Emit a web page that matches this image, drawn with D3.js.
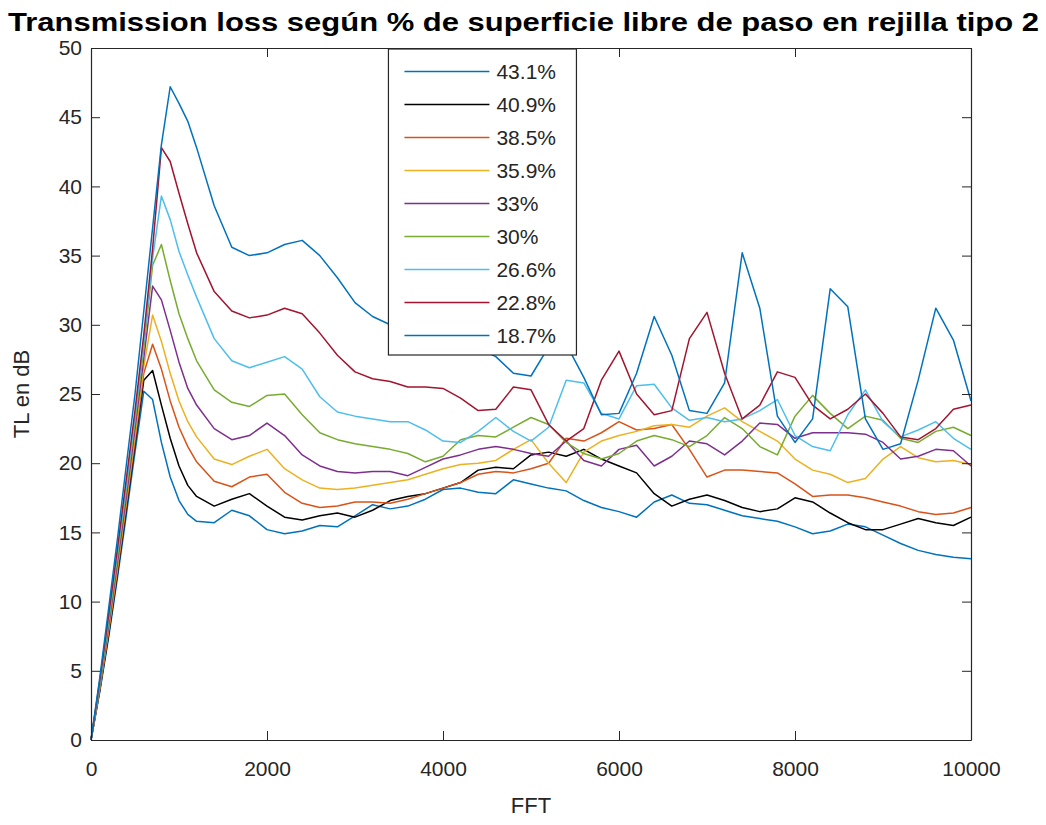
<!DOCTYPE html>
<html>
<head>
<meta charset="utf-8">
<script src="https://cdn.jsdelivr.net/npm/d3@7"></script>
<style>
	body { margin: 0; background: #fff; }
	#tl-chart { width: 1046px; height: 825px; }
	text { font-family: "Liberation Sans", Arial, sans-serif; fill: #262626; }
</style>
</head>
<body>
<div id="tl-chart"></div>
<script>
// Frequency grid (Hz): 100 Hz steps up to 1200, then 200 Hz steps
const freq = [0, 100, 200, 300, 400, 500, 600, 700, 800, 900, 1000, 1100, 1200,
	1400, 1600, 1800, 2000, 2200, 2400, 2600, 2800, 3000, 3200,
	3400, 3600, 3800, 4000, 4200, 4400, 4600, 4800, 5000, 5200,
	5400, 5600, 5800, 6000, 6200, 6400, 6600, 6800, 7000, 7200,
	7400, 7600, 7800, 8000, 8200, 8400, 8600, 8800, 9000, 9200,
	9400, 9600, 9800, 10000]

const seriesLabels = ["43.1%", "40.9%", "38.5%", "35.9%", "33%", "30%", "26.6%", "22.8%", "18.7%"]
const seriesColors = ["#0072BD", "#000000", "#D95319", "#EDB120", "#7E2F8E", "#77AC30", "#4DBEEE", "#A2142F", "#0072BD"]

// TL in dB, one array per % open area
const tl431 = [0, 3.5, 7.4, 11.7, 16.2, 20.8, 25.2, 24.6, 21.5, 19.0, 17.3, 16.3, 15.8,
	15.7, 16.6, 16.2, 15.2, 14.9, 15.1, 15.5, 15.4, 16.2, 17.0,
	16.7, 16.9, 17.4, 18.1, 18.2, 17.9, 17.8, 18.8, 18.5, 18.2,
	18.0, 17.3, 16.8, 16.5, 16.1, 17.2, 17.7, 17.1, 17.0, 16.6,
	16.2, 16.0, 15.8, 15.4, 14.9, 15.1, 15.6, 15.4, 14.8, 14.2,
	13.7, 13.4, 13.2, 13.1]
const tl409 = [0, 3.6, 7.6, 12.0, 16.6, 21.3, 26.0, 26.7, 24.2, 21.8, 19.8, 18.4, 17.6,
	16.9, 17.4, 17.8, 16.9, 16.1, 15.9, 16.2, 16.4, 16.1, 16.6,
	17.3, 17.6, 17.8, 18.2, 18.6, 19.5, 19.7, 19.6, 20.6, 20.8,
	20.5, 21.0, 20.3, 19.8, 19.3, 17.8, 16.9, 17.4, 17.7, 17.3,
	16.8, 16.5, 16.7, 17.5, 17.2, 16.4, 15.7, 15.2, 15.2, 15.6,
	16.0, 15.7, 15.5, 16.1]
const tl385 = [0, 3.7, 7.8, 12.2, 16.9, 21.6, 26.5, 28.6, 26.8, 24.5, 22.6, 21.2, 20.1,
	18.7, 18.3, 19.0, 19.2, 17.9, 17.1, 16.8, 16.9, 17.2, 17.2,
	17.1, 17.4, 17.8, 18.2, 18.6, 19.2, 19.4, 19.3, 19.6, 20.0,
	21.8, 21.6, 22.2, 23.0, 22.4, 22.5, 22.8, 21.0, 19.0, 19.5,
	19.5, 19.4, 19.3, 18.5, 17.6, 17.7, 17.7, 17.5, 17.2, 16.9,
	16.5, 16.3, 16.4, 16.8]
const tl359 = [0, 3.8, 8.0, 12.5, 17.2, 22.0, 27.0, 30.7, 28.8, 26.5, 24.5, 23.0, 21.9,
	20.3, 19.9, 20.5, 21.0, 19.6, 18.8, 18.2, 18.1, 18.2, 18.4,
	18.6, 18.8, 19.2, 19.6, 19.9, 20.0, 20.2, 21.0, 21.7, 20.0,
	18.6, 20.8, 21.6, 22.0, 22.3, 22.7, 22.8, 22.6, 23.4, 24.0,
	23.0, 22.3, 21.6, 20.3, 19.5, 19.2, 18.6, 18.9, 20.3, 21.2,
	20.4, 20.1, 20.2, 19.9]
const tl330 = [0, 3.9, 8.2, 12.8, 17.5, 22.5, 27.6, 32.8, 31.8, 29.6, 27.3, 25.4, 24.2,
	22.5, 21.7, 22.0, 22.9, 22.0, 20.6, 19.8, 19.4, 19.3, 19.4,
	19.4, 19.1, 19.7, 20.3, 20.6, 21.0, 21.2, 21.0, 20.7, 20.5,
	21.6, 20.2, 19.8, 21.0, 21.3, 19.8, 20.5, 21.6, 21.4, 20.6,
	21.6, 22.9, 22.8, 21.8, 22.2, 22.2, 22.2, 22.1, 21.5, 20.3,
	20.5, 21.0, 20.9, 19.8]
const tl300 = [0, 4.0, 8.5, 13.2, 18.0, 23.0, 28.3, 34.3, 35.8, 33.2, 30.8, 29.0, 27.4,
	25.3, 24.4, 24.1, 24.9, 25.0, 23.5, 22.2, 21.7, 21.4, 21.2,
	21.0, 20.7, 20.1, 20.5, 21.7, 22.0, 21.9, 22.6, 23.3, 22.8,
	21.5, 20.7, 20.3, 20.7, 21.6, 22.0, 21.7, 21.2, 22.0, 23.3,
	22.5, 21.2, 20.6, 23.4, 24.9, 23.6, 22.5, 23.4, 23.1, 21.8,
	21.5, 22.3, 22.6, 22.0]
const tl266 = [0, 4.2, 8.8, 13.5, 18.3, 23.3, 28.8, 34.8, 39.3, 37.6, 35.3, 33.6, 32.0,
	29.0, 27.4, 26.9, 27.3, 27.7, 26.8, 24.8, 23.7, 23.4, 23.2,
	23.0, 23.0, 22.4, 21.6, 21.5, 22.3, 23.3, 22.3, 21.6, 22.6,
	26.0, 25.8, 23.6, 23.2, 25.6, 25.7, 24.0, 23.1, 23.3, 23.0,
	23.2, 23.8, 24.6, 22.0, 21.2, 20.9, 23.5, 25.3, 23.0, 21.9,
	22.4, 23.0, 21.8, 21.0]
const tl228 = [0, 4.3, 9.0, 13.8, 18.8, 23.8, 29.3, 35.5, 42.8, 41.8, 39.5, 37.3, 35.2,
	32.4, 31.0, 30.5, 30.7, 31.2, 30.8, 29.4, 27.8, 26.6, 26.1,
	25.9, 25.5, 25.5, 25.4, 24.7, 23.8, 23.9, 25.5, 25.3, 22.8,
	21.6, 22.5, 26.0, 28.1, 25.0, 23.5, 23.8, 29.0, 30.9, 26.5,
	23.2, 24.2, 26.6, 26.2, 24.2, 23.2, 23.9, 25.0, 23.6, 21.9,
	21.7, 22.5, 23.9, 24.2]
const tl187 = [0, 4.5, 9.5, 14.5, 19.8, 25.0, 31.0, 37.0, 43.0, 47.2, 46.0, 44.7, 42.8,
	38.6, 35.6, 35.0, 35.2, 35.8, 36.1, 35.0, 33.4, 31.6, 30.6,
	30.0, 29.6, 29.3, 29.0, 28.8, 28.3, 27.7, 26.5, 26.3, 28.4,
	28.6, 26.2, 23.5, 23.6, 26.5, 30.6, 27.8, 23.8, 23.6, 25.8,
	35.2, 31.2, 23.4, 21.5, 23.2, 32.6, 31.3, 23.2, 21.0, 21.4,
	26.0, 31.2, 28.9, 24.5]

const xTicks = [0, 2000, 4000, 6000, 8000, 10000]
const yTicks = [0, 5, 10, 15, 20, 25, 30, 35, 40, 45, 50]

function renderTLChart() {
	const allSeries = [tl431, tl409, tl385, tl359, tl330, tl300, tl266, tl228, tl187]
	const data = allSeries.map((vals, i) => ({
		label: seriesLabels[i],
		color: seriesColors[i],
		points: freq.map((f, j) => ({ f: f, v: vals[j] })),
	}))

	const margin = { top: 48, right: 75, bottom: 85, left: 91 }
	const width = 1046 - margin.left - margin.right
	const height = 825 - margin.top - margin.bottom

	const root = d3
		.select("#tl-chart")
		.append("svg")
		.attr("width", 1046)
		.attr("height", 825)

	const svg = root
		.append("g")
		.attr("transform", `translate(${margin.left},${margin.top})`)

	// Title
	root.append("text")
		.attr("x", 8)
		.attr("y", 31)
		.attr("textLength", 1031)
		.attr("lengthAdjust", "spacingAndGlyphs")
		.style("font-size", "26px")
		.style("font-weight", "bold")
		.style("fill", "#000")
		.text("Transmission loss según % de superficie libre de paso en rejilla tipo 2")

	// Scales
	const x = d3.scaleLinear().domain([0, 10000]).range([0, width])
	const y = d3.scaleLinear().domain([0, 50]).range([height, 0])

	// Lines
	const line = d3
		.line()
		.x((d) => x(d.f))
		.y((d) => y(d.v))

	svg.selectAll(".series")
		.data(data)
		.enter()
		.append("path")
		.attr("class", "series")
		.attr("fill", "none")
		.attr("stroke", (d) => d.color)
		.attr("stroke-width", 1.5)
		.attr("stroke-linejoin", "round")
		.attr("d", (d) => line(d.points))

	// Axes (ticks inside, box around)
	svg.append("g")
		.attr("class", "x-axis")
		.attr("transform", `translate(0,${height})`)
		.call(
			d3
				.axisBottom(x)
				.tickValues(xTicks)
				.tickFormat(d3.format("d"))
				.tickSize(-9)
				.tickSizeOuter(0)
				.tickPadding(21)
		)

	svg.append("g")
		.attr("class", "y-axis")
		.call(d3.axisLeft(y).tickValues(yTicks).tickSize(-9).tickSizeOuter(0).tickPadding(9))

	svg.append("g")
		.attr("class", "top-axis")
		.call(d3.axisTop(x).tickValues(xTicks).tickSize(-9).tickSizeOuter(0).tickFormat(""))

	svg.append("g")
		.attr("class", "right-axis")
		.attr("transform", `translate(${width},0)`)
		.call(d3.axisRight(y).tickValues(yTicks).tickSize(-9).tickSizeOuter(0).tickFormat(""))

	svg.selectAll(".x-axis path, .y-axis path, .top-axis path, .right-axis path")
		.style("stroke", "#262626")
		.style("stroke-width", "1.2px")

	svg.selectAll(".x-axis line, .y-axis line, .top-axis line, .right-axis line")
		.style("stroke", "#262626")
		.style("stroke-width", "1px")

	svg.selectAll(".x-axis text, .y-axis text")
		.style("font-size", "21px")
		.style("font-family", "'Liberation Sans', Arial, sans-serif")
		.style("fill", "#262626")

	// Axis labels
	svg.append("text")
		.attr("x", width / 2)
		.attr("y", height + 73)
		.attr("text-anchor", "middle")
		.style("font-size", "22px")
		.text("FFT")

	svg.append("text")
		.attr("transform", `translate(${-62},${height / 2}) rotate(-90)`)
		.attr("text-anchor", "middle")
		.style("font-size", "22px")
		.text("TL en dB")

	// Legend
	const legend = svg
		.append("g")
		.attr("class", "legend")
		.attr("transform", `translate(${x(3380)}, 0)`)

	legend.append("rect")
		.attr("x", 0)
		.attr("y", 1)
		.attr("width", 188)
		.attr("height", 306)
		.style("fill", "#fff")
		.style("stroke", "#262626")
		.style("stroke-width", "1.2px")

	data.forEach((d, i) => {
		const legendRow = legend
			.append("g")
			.attr("transform", `translate(0, ${23.5 + i * 33})`)

		legendRow
			.append("line")
			.attr("x1", 16)
			.attr("x2", 101)
			.attr("stroke", d.color)
			.attr("stroke-width", 1.5)

		legendRow
			.append("text")
			.attr("x", 108)
			.attr("y", 7.5)
			.style("font-size", "21px")
			.text(d.label)
	})
}

renderTLChart()
</script>
</body>
</html>
